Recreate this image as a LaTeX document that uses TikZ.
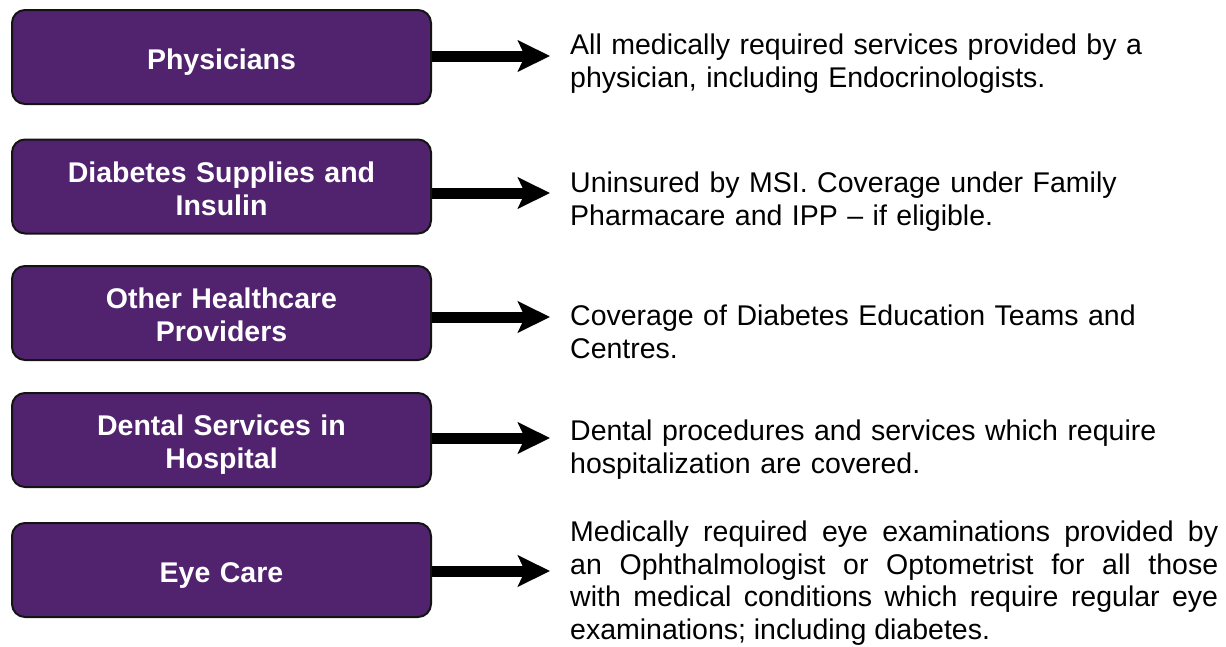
\documentclass[tikz,border=0pt]{standalone}
\usepackage{fontspec}
\setmainfont{Liberation Sans}
\usetikzlibrary{arrows.meta}
\definecolor{plumc}{HTML}{51236F}
\definecolor{edgec}{HTML}{141414}
\newcommand{\topstrut}{\rule{0pt}{31pt}}
\newcommand{\botstrut}{\rule[-6.5pt]{0pt}{6.5pt}}

\begin{document}
\begin{tikzpicture}[x=1pt, y=-1pt,
  cover/.style={draw=edgec, line width=2pt, fill=plumc, rounded corners=13pt,
    minimum width=419pt, minimum height=94pt, inner sep=0pt, text width=400pt,
    align=center, text=white, font=\fontsize{28.5}{33}\selectfont\bfseries},
  note/.style={anchor=west, inner sep=0pt, text width=652pt, align=left,
    font=\fontsize{28.5}{32.5}\selectfont},
  link/.style={line width=11pt, -{Stealth[length=32pt, width=31pt, inset=7pt]}}]
  \useasboundingbox (0,0) rectangle (1226,646);
  \node[cover] (phys) at (221.5,57) {\topstrut Physicians\botstrut};
  \node[cover] (supp) at (221.5,186.5) {\topstrut Diabetes Supplies and\\Insulin\botstrut};
  \node[cover] (other) at (221.5,313) {\topstrut Other Healthcare\\Providers\botstrut};
  \node[cover] (dent) at (221.5,440) {\topstrut Dental Services in\\Hospital\botstrut};
  \node[cover] (eye) at (221.5,570) {\topstrut Eye Care\botstrut};
  \node[note] (physnote) at (570,64.5) {\strut All medically required services provided by a\\physician, including Endocrinologists.\strut};
  \node[note] (suppnote) at (570,202.5) {\strut Uninsured by MSI. Coverage under Family\\Pharmacare and IPP -- if eligible.\strut};
  \node[note] (othernote) at (570,335.5) {\strut Coverage of Diabetes Education Teams and\\Centres.\strut};
  \node[note] (dentnote) at (570,450.5) {\strut Dental procedures and services which require\\hospitalization are covered.\strut};
  \node[note, text width=648pt, align=justify] (eyenote) at (570,583.75) {\strut Medically required eye examinations provided by\linebreak
    an Ophthalmologist or Optometrist for all those\linebreak
    with medical conditions which require regular eye\linebreak
    examinations; including diabetes.\strut};
  \coordinate (physend) at (550,56);
  \coordinate (suppend) at (550,193);
  \coordinate (otherend) at (550,317);
  \coordinate (dentend) at (550,438);
  \coordinate (eyeend) at (550,571);
  \draw[link] (phys.east |- physend) -- (physend);
  \draw[link] (supp.east |- suppend) -- (suppend);
  \draw[link] (other.east |- otherend) -- (otherend);
  \draw[link] (dent.east |- dentend) -- (dentend);
  \draw[link] (eye.east |- eyeend) -- (eyeend);
\end{tikzpicture}
\end{document}
